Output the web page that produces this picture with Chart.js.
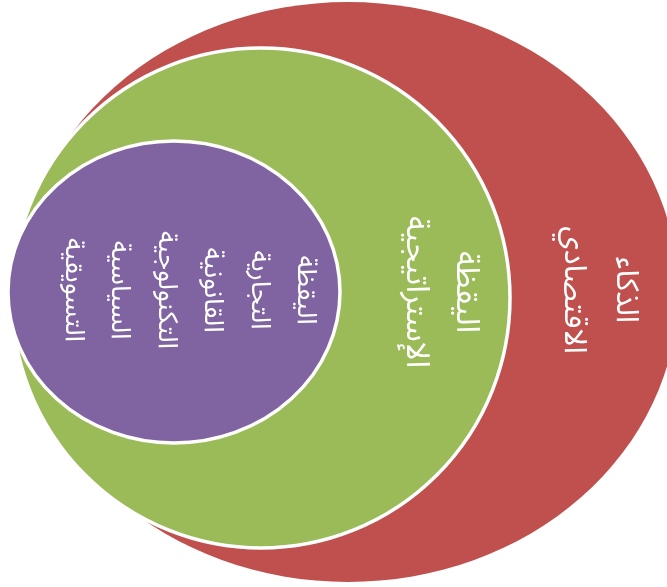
<!DOCTYPE html>
<html lang="ar">
<head>
<meta charset="UTF-8">
<title>الذكاء الاقتصادي</title>
<script src="https://cdn.jsdelivr.net/npm/chart.js"></script>
<style>
  html, body { margin: 0; padding: 0; background: #fff; }
  #wrap { width: 667px; height: 587px; }
</style>
</head>
<body>
<div id="wrap"><canvas id="myChart" width="667" height="587"></canvas></div>
<script>
  // nested shapes, outer to inner (diagram units, y grows downward)
  const shapeNames = ['الذكاء الاقتصادي', 'اليقظة الإستراتيجية', 'أنواع اليقظة'];
  const centerX = [348, 261, 174];
  const centerY = [292, 298, 292];
  const radiusX = [330, 249, 166];
  const radiusY = [290, 250, 151];

  // text lines in each shape (first line on the right)
  const shapeLines = [
    ['الذكاء', 'الاقتصادي'],
    ['اليقظة', 'الإستراتيجية'],
    ['اليقظة', 'التجارية', 'القانونية', 'التكنولوجية', 'السياسية', 'التسويقية']
  ];
  const labelX = [596, 437, 186];
  const labelY = [290, 292, 290];

  // styles
  const fills = ['#C0504D', '#9BBB59', '#8064A2'];
  const borders = [null, '#ffffff', '#ffffff'];
  const fontSizes = [31, 32, 27];
  const lineGaps = [52, 50, 46.5];

  const ellipsePlugin = {
    id: 'ellipses',
    beforeDatasetsDraw(chart) {
      const ctx = chart.ctx;
      const xs = chart.scales.x;
      const ys = chart.scales.y;
      for (let i = 0; i < shapeNames.length; i++) {
        const cx = xs.getPixelForValue(centerX[i]);
        const cy = ys.getPixelForValue(centerY[i]);
        const rx = Math.abs(xs.getPixelForValue(centerX[i] + radiusX[i]) - cx);
        const ry = Math.abs(ys.getPixelForValue(centerY[i] + radiusY[i]) - cy);
        ctx.save();
        ctx.beginPath();
        ctx.ellipse(cx, cy, rx, ry, 0, 0, Math.PI * 2);
        ctx.fillStyle = fills[i];
        ctx.fill();
        if (borders[i]) {
          ctx.lineWidth = 3.5;
          ctx.strokeStyle = borders[i];
          ctx.stroke();
        }
        ctx.restore();
      }
      // vertical text, rotated a quarter turn clockwise
      for (let i = 0; i < shapeLines.length; i++) {
        const px = xs.getPixelForValue(labelX[i]);
        const py = ys.getPixelForValue(labelY[i]);
        const lines = shapeLines[i];
        ctx.save();
        ctx.translate(px, py);
        ctx.rotate(Math.PI / 2);
        ctx.fillStyle = '#ffffff';
        ctx.font = fontSizes[i] + 'px "Noto Sans Arabic", "DejaVu Sans", sans-serif';
        ctx.direction = 'rtl';
        ctx.textAlign = 'center';
        ctx.textBaseline = 'middle';
        const n = lines.length;
        lines.forEach((t, k) => {
          ctx.fillText(t, 0, (k - (n - 1) / 2) * lineGaps[i]);
        });
        ctx.restore();
      }
    }
  };

  const data = {
    datasets: [{
      label: 'centres',
      data: centerX.map((x, i) => ({ x: x, y: centerY[i] })),
      pointRadius: 0,
      showLine: false
    }]
  };

  const config = {
    type: 'scatter',
    data: data,
    options: {
      responsive: false,
      animation: false,
      layout: { padding: 0 },
      plugins: {
        legend: { display: false },
        tooltip: { enabled: false }
      },
      scales: {
        x: { type: 'linear', min: 0, max: 667, display: false },
        y: { type: 'linear', min: 0, max: 587, reverse: true, display: false }
      }
    },
    plugins: [ellipsePlugin]
  };

  const myChart = new Chart(document.getElementById('myChart'), config);
</script>
</body>
</html>
